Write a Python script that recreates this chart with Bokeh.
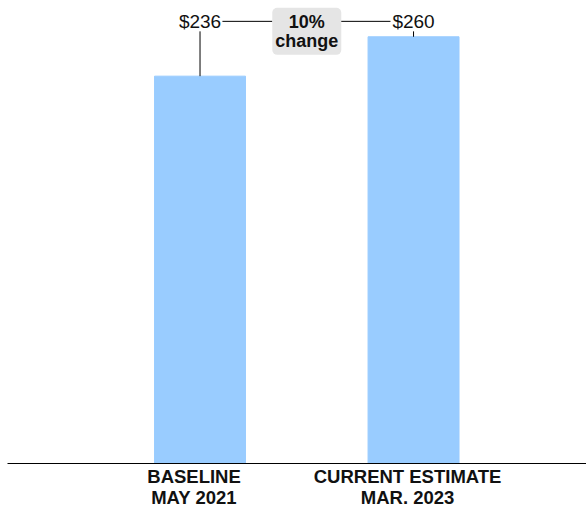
from bokeh.plotting import figure
from bokeh.models import Range1d, Label, FixedTicker, ColumnDataSource
from bokeh.core.properties import value
from bokeh.embed import file_html
from bokeh.resources import INLINE

categories = ["BASELINE\nMAY 2021", "CURRENT ESTIMATE\nMAR. 2023"]
values = [236, 260]
value_labels = ["$236", "$260"]
change_label = "10%\nchange"

FONT = "Liberation Sans"
BAR = "#99CCFF"
TXT = "#111111"

xs = list(range(len(values)))
top = max(values)
label_y = top + 9.4
leader_top = top + 3.3
box_y = top + 3.3
tick_shift = -0.028

p = figure(frame_width=579, frame_height=463, output_backend="svg",
           toolbar_location=None, x_range=Range1d(-0.9016, 1.810),
           y_range=Range1d(0, 282.1), min_border_left=7, min_border_right=0,
           min_border_top=0, min_border_bottom=43)
p.outline_line_color = None
p.xgrid.visible = False
p.ygrid.visible = False
p.yaxis.visible = False
p.background_fill_color = "white"
p.border_fill_color = "white"

src = ColumnDataSource(dict(x=xs, top=values, label=value_labels,
                            ly=[label_y] * len(xs), lt=[leader_top] * len(xs)))
p.vbar(x="x", top="top", bottom=0, width=0.426, color=BAR, source=src)

# leader lines
p.segment(x0="x", y0="top", x1="x", y1="lt", line_color="black", line_width=1, source=src)
p.text(x="x", y="ly", text="label", text_align="center", text_baseline="middle",
       text_font=value(FONT), text_font_size="19px", text_color=TXT, source=src)

# connectors between labels and change box
p.segment(x0=[xs[0] + 0.105, xs[0] + 0.658], y0=[label_y, label_y],
          x1=[xs[0] + 0.339, xs[0] + 0.892], y1=[label_y, label_y],
          line_color="black", line_width=1)

box = Label(x=(xs[0] + xs[1]) / 2, y=box_y, text=change_label,
            text_align="center", text_baseline="middle",
            text_font=FONT, text_font_size="18px", text_font_style="bold",
            text_color=TXT, text_line_height=0.95,
            background_fill_color="#E5E5E5",
            border_radius=5, padding=dict(left=3, right=3, top=4, bottom=4))
p.add_layout(box)

ticks = [x + tick_shift for x in xs]
ax = p.xaxis[0]
ax.ticker = FixedTicker(ticks=ticks)
ax.major_label_overrides = {t: c for t, c in zip(ticks, categories)}
ax.major_tick_line_color = None
ax.minor_tick_line_color = None
ax.axis_line_color = "black"
ax.axis_line_width = 1
ax.major_label_text_font = FONT
ax.major_label_text_font_size = "18.5px"
ax.major_label_text_font_style = "bold"
ax.major_label_text_color = TXT
ax.major_label_text_line_height = 1.02
ax.major_label_standoff = -4

open("out.html", "w").write(file_html(p, INLINE))
